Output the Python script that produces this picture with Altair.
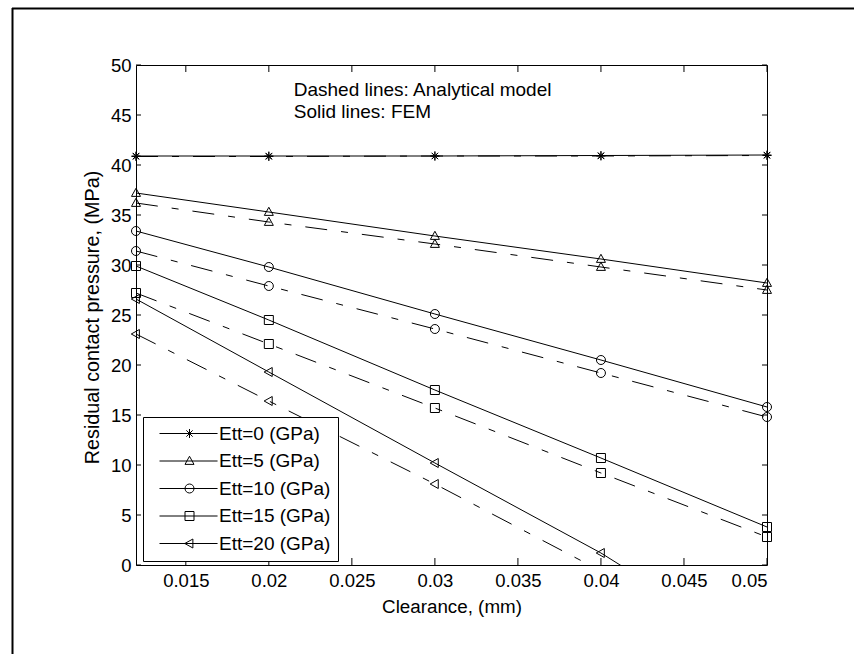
import altair as alt
import pandas as pd

# ---------------- data ----------------
clearance = [0.012, 0.02, 0.03, 0.04, 0.05]
series_names = ["Ett=0 (GPa)", "Ett=5 (GPa)", "Ett=10 (GPa)", "Ett=15 (GPa)", "Ett=20 (GPa)"]

fem_0 = [40.9, 40.9, 40.9, 40.95, 41.0]
fem_5 = [37.2, 35.3, 32.9, 30.6, 28.2]
fem_10 = [33.4, 29.8, 25.1, 20.5, 15.8]
fem_15 = [29.9, 24.5, 17.5, 10.7, 3.8]
fem_20 = [26.6, 19.3, 10.2, 1.2, -9.2]

ana_0 = [40.85, 40.85, 40.9, 40.9, 40.95]
ana_5 = [36.2, 34.3, 32.1, 29.8, 27.5]
ana_10 = [31.4, 27.9, 23.6, 19.2, 14.8]
ana_15 = [27.2, 22.1, 15.7, 9.2, 2.8]
ana_20 = [23.1, 16.4, 8.1, -0.6, -9.4]

x_ticks = [0.015, 0.02, 0.025, 0.03, 0.035, 0.04, 0.045, 0.05]
y_ticks = [0, 5, 10, 15, 20, 25, 30, 35, 40, 45, 50]
notes = ["Dashed lines: Analytical model", "Solid lines: FEM"]

# ---------------- tables ----------------
fem_all = [fem_0, fem_5, fem_10, fem_15, fem_20]
ana_all = [ana_0, ana_5, ana_10, ana_15, ana_20]
rows = []
for name, f, a in zip(series_names, fem_all, ana_all):
    for c, v in zip(clearance, f):
        rows.append({"Ett": name, "method": "FEM", "clearance": c, "pressure": v})
    for c, v in zip(clearance, a):
        rows.append({"Ett": name, "method": "Analytical", "clearance": c, "pressure": v})
df = pd.DataFrame(rows)

legend_df = pd.DataFrame({"Ett": series_names, "clearance": [0.03] * 5, "pressure": [-50] * 5})
xt_df = pd.DataFrame({"clearance": x_ticks})
yt_df = pd.DataFrame({"pressure": y_ticks})
notes_df = pd.DataFrame({"text": notes, "clearance": [0.0215, 0.0215], "pressure": [47.5, 45.3]})
one = pd.DataFrame({"a": [0]})

# ---------------- marker shapes ----------------
def ast(c=0.0):
    return (f"M{c-1},0L{c+1},0M{c},-1L{c},1M{c-0.7},-0.7L{c+0.7},0.7"
            f"M{c-0.7},0.7L{c+0.7},-0.7")

def tri_up(c=0.0):
    return f"M{c},-1.05L{c+1},0.75L{c-1},0.75Z"

def circ(c=0.0):
    return f"M{c+1},0A1,1,0,1,1,{c-1},0A1,1,0,1,1,{c+1},0Z"

def sq(c=0.0):
    return f"M{c-1},-1L{c+1},-1L{c+1},1L{c-1},1Z"

def tri_left(c=0.0):
    return f"M{c-1.05},0L{c+0.75},-1L{c+0.75},1Z"

makers = [ast, tri_up, circ, sq, tri_left]
plot_shapes = [m() for m in makers]
LC = 6.67
legend_shapes = ["M0,0L12.9,0" + m(LC) for m in makers]

# ---------------- encodings ----------------
FONT = "Liberation Sans"
xscale = alt.Scale(domain=[0.012, 0.05], nice=False, zero=False)
yscale = alt.Scale(domain=[0, 50], nice=False, zero=False)
xaxis = alt.Axis(values=x_ticks, format=".3~f", title="Clearance, (mm)",
                 titleX=315.5, titleY=41, titleBaseline="middle", titleAnchor="middle",
                 titleFontSize=18.8, labelPadding=6)
yaxis = alt.Axis(values=y_ticks, format="d", title="Residual contact pressure, (MPa)",
                 titleX=-44, titleY=252, titleAngle=270, titleBaseline="middle",
                 titleAnchor="middle", titleFontSize=19.8, labelPadding=5)

X = alt.X("clearance:Q", scale=xscale, axis=xaxis)
Y = alt.Y("pressure:Q", scale=yscale, axis=yaxis)

fem_lines = alt.Chart(df).transform_filter(alt.datum.method == "FEM").mark_line(
    color="black", strokeWidth=1, clip=True
).encode(x=X, y=Y, detail="Ett:N", order="clearance:Q")

ana_lines = alt.Chart(df).transform_filter(alt.datum.method == "Analytical").mark_line(
    color="black", strokeWidth=1, clip=True, strokeDash=[22, 14, 7, 14]
).encode(x=X, y=Y, detail="Ett:N", order="clearance:Q")

points = alt.Chart(df).transform_filter(alt.datum.pressure >= 0).mark_point(
    filled=False, color="black", strokeWidth=1, size=81, opacity=1
).encode(
    x=X, y=Y,
    shape=alt.Shape("Ett:N", scale=alt.Scale(domain=series_names, range=plot_shapes), legend=None),
)

legend_layer = alt.Chart(legend_df).mark_point(
    filled=False, color="black", strokeWidth=1, size=81, opacity=1, clip=True
).encode(
    x=X, y=Y,
    shape=alt.Shape("Ett:N", scale=alt.Scale(domain=series_names, range=legend_shapes),
                    legend=alt.Legend(title=None, orient="none", legendX=7, legendY=352)),
)

xt_bottom = alt.Chart(xt_df).mark_rule(color="black", strokeWidth=1).encode(
    x=X, y=alt.value(500), y2=alt.value(493))
xt_top = alt.Chart(xt_df).mark_rule(color="black", strokeWidth=1).encode(
    x=X, y=alt.value(0), y2=alt.value(7))
yt_left = alt.Chart(yt_df).mark_rule(color="black", strokeWidth=1).encode(
    y=Y, x=alt.value(0), x2=alt.value(5))
yt_right = alt.Chart(yt_df).mark_rule(color="black", strokeWidth=1).encode(
    y=Y, x=alt.value(631), x2=alt.value(626))

frame_left = alt.Chart(one).mark_rule(color="black", strokeWidth=2).encode(
    x=alt.value(-123.5), y=alt.value(-57), y2=alt.value(620))
frame_top = alt.Chart(one).mark_rule(color="black", strokeWidth=2).encode(
    y=alt.value(-56.5), x=alt.value(-124), x2=alt.value(760))

note_text = alt.Chart(notes_df).mark_text(
    align="left", baseline="middle", font=FONT, fontSize=19, color="black"
).encode(x=X, y=Y, text="text:N")

chart = alt.layer(
    fem_lines, ana_lines, points, legend_layer,
    xt_bottom, xt_top, yt_left, yt_right, frame_left, frame_top, note_text,
).resolve_scale(shape="independent").properties(
    width=631, height=500,
    padding={"left": 136, "top": 65, "right": 87, "bottom": 89},
    autosize=alt.AutoSizeParams(type="none"),
    background="white",
).configure_view(
    stroke="black", strokeWidth=1
).configure_axis(
    grid=False, ticks=False, domain=False,
    labelFont=FONT, labelFontSize=18.5, labelColor="black",
    titleFont=FONT, titleFontWeight="normal", titleColor="black",
).configure_legend(
    padding=7, strokeColor="black", strokeWidth=1, fillColor="white", cornerRadius=0,
    labelFont=FONT, labelFontSize=19, labelColor="black",
    symbolSize=81, symbolStrokeWidth=1, symbolStrokeColor="black",
    rowPadding=7.5, labelOffset=50,
)

chart.save("out.html", embed_options={"renderer": "svg", "actions": False})
